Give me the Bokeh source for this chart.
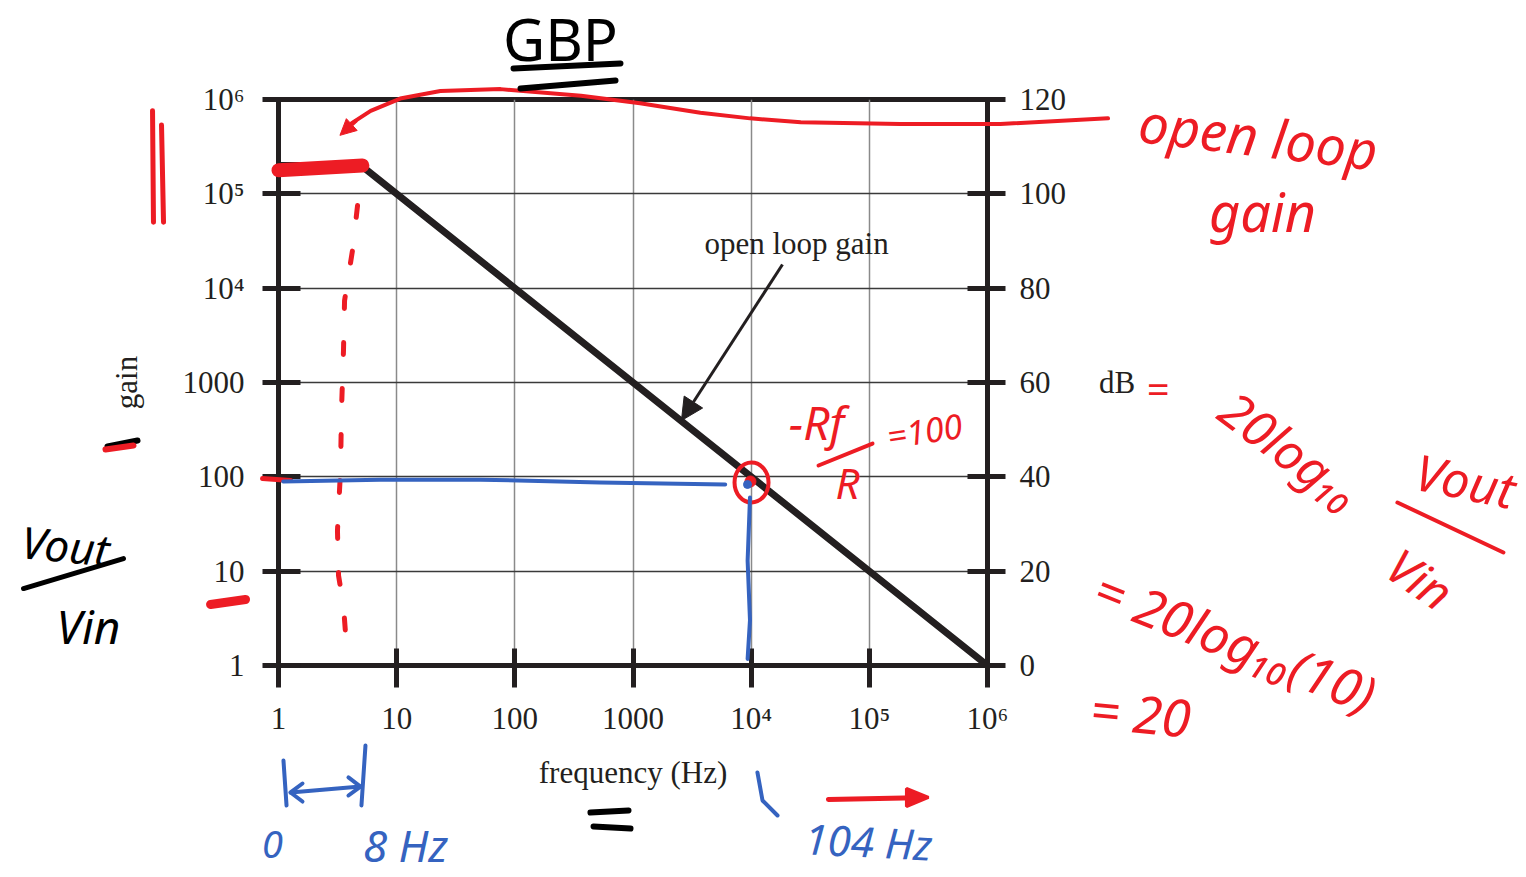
from bokeh.plotting import figure
from bokeh.models import (Range1d, LinearAxis, LinearScale, FixedTicker, Arrow, NormalHead)
from bokeh.core.properties import value
from bokeh.embed import file_html
from bokeh.resources import INLINE

# ---------------- chart data ----------------
freq_hz = [1, 5, 1e6]
open_loop_gain = [2e5, 2e5, 1]

x_ticks = [1.0, 10.0, 100.0, 1000.0, 1e4, 1e5, 1e6]
x_tick_labels = ["1", "10", "100", "1000", "10⁴", "10⁵", "10⁶"]
y_ticks = [1.0, 10.0, 100.0, 1000.0, 1e4, 1e5, 1e6]
y_tick_labels = ["1", "10", "100", "1000", "10⁴", "10⁵", "10⁶"]
db_ticks = [0, 20, 40, 60, 80, 100, 120]

# closed-loop (blue, hand drawn), in decades (log10 Hz, log10 gain)
blue_h_lx = [0.04, 0.86, 1.71, 2.72, 3.78]
blue_h_ly = [1.95, 1.97, 1.97, 1.94, 1.92]
blue_v_lx = [3.99, 3.97, 3.99, 3.97]
blue_v_ly = [1.78, 1.11, 0.48, 0.07]

# red pointer curve (open loop gain note -> GBP corner), decades
red_curve_lx = [7.02, 6.11, 5.26, 4.42, 3.99, 3.57, 3.06, 2.56, 1.88, 1.37, 1.03, 0.78, 0.62]
red_curve_ly = [5.80, 5.74, 5.74, 5.76, 5.80, 5.86, 5.96, 6.04, 6.11, 6.09, 6.01, 5.88, 5.75]

# red dashed drop line from the open-loop corner, decades
red_drop_lx = [0.669, 0.626, 0.559, 0.550, 0.533, 0.525, 0.499, 0.508, 0.550, 0.584]
red_drop_ly = [4.877, 4.399, 3.869, 3.339, 2.703, 2.067, 1.431, 0.954, 0.636, 0.053]

INK = "#231f20"
RED = "#ed1c24"
BLUE = "#3563c0"
BLK = "#000000"
SERIF = "Liberation Serif"
HAND = "Noto Sans"


def d(v):
    return 10 ** v


p = figure(width=1526, height=877, x_axis_type="log", y_axis_type="log",
           x_range=Range1d(1, 1e6), y_range=Range1d(1, 1e6),
           output_backend="svg", toolbar_location=None,
           min_border_left=278, min_border_right=539,
           min_border_top=99, min_border_bottom=212)
p.background_fill_color = "white"
p.border_fill_color = "white"
p.outline_line_color = INK
p.outline_line_width = 5

p.extra_y_ranges = {"db": Range1d(0, 120)}
p.extra_y_scales = {"db": LinearScale()}
rax = LinearAxis(y_range_name="db", ticker=FixedTicker(ticks=db_ticks), axis_label="dB")
p.add_layout(rax, "right")

xa = p.xaxis[0]
ya = p.yaxis[0]
xa.ticker = FixedTicker(ticks=x_ticks)
ya.ticker = FixedTicker(ticks=y_ticks)
xa.major_label_overrides = dict(zip(x_ticks, x_tick_labels))
ya.major_label_overrides = dict(zip(y_ticks, y_tick_labels))
xa.axis_label = "frequency (Hz)"
ya.axis_label = "gain"

for ax in (xa, ya, rax):
    ax.axis_line_width = 5
    ax.axis_line_color = INK
    ax.major_tick_line_width = 5
    ax.major_tick_line_color = INK
    ax.minor_tick_line_color = None
    ax.major_label_text_font = SERIF
    ax.major_label_text_font_size = "31px"
    ax.major_label_text_color = INK
    ax.axis_label_text_font = SERIF
    ax.axis_label_text_font_size = "31px"
    ax.axis_label_text_font_style = "normal"
    ax.axis_label_text_color = INK

ya.major_tick_in = 22
ya.major_tick_out = 16
ya.major_label_standoff = 18
ya.axis_label_standoff = 36
xa.major_tick_in = 17
xa.major_tick_out = 22
xa.major_label_standoff = 13
xa.axis_label_standoff = 16
rax.major_tick_in = 20
rax.major_tick_out = 18
rax.major_label_standoff = 14
rax.axis_label_standoff = 30
rax.axis_label_orientation = "horizontal"

p.xgrid.ticker = FixedTicker(ticks=x_ticks)
p.ygrid.ticker = FixedTicker(ticks=y_ticks)
p.xgrid.grid_line_color = "#8a8a8a"
p.xgrid.grid_line_width = 1.5
p.ygrid.grid_line_color = "#3a3a3a"
p.ygrid.grid_line_width = 1.5

# open loop gain
p.line(freq_hz, open_loop_gain, line_color=INK, line_width=7)


def stroke(lx, ly, color, width, dash="solid"):
    p.line([d(v) for v in lx], [d(v) for v in ly], line_color=color, line_width=width,
           line_cap="round", line_join="round", line_dash=dash, level="overlay")


def note(lx, ly, text, color, size, angle=0.0, font=HAND, style="italic"):
    p.text([d(lx)], [d(ly)], text=[text], text_font=value(font),
           text_font_size=f"{size}px", text_font_style=style,
           text_color=color, text_align="center", text_baseline="middle",
           angle=angle, level="overlay")


# "open loop gain" label with arrow
note(4.384, 4.474, "open loop gain", INK, 31, font=SERIF, style="normal")
p.add_layout(Arrow(x_start=d(4.265), y_start=d(4.251), x_end=d(3.41), y_end=d(2.597),
                   line_color=INK, line_width=3,
                   end=NormalHead(size=22, fill_color=INK, line_color=INK)))

# ---------- red pen ----------
stroke([0.0, 0.71], [5.25, 5.30], RED, 14)
stroke(red_curve_lx, red_curve_ly, RED, 4)
p.add_layout(Arrow(x_start=d(0.66), y_start=d(5.78), x_end=d(0.52), y_end=d(5.62),
                   line_color=RED, line_width=4, level="overlay",
                   end=NormalHead(size=16, fill_color=RED, line_color=RED)))
stroke(red_drop_lx, red_drop_ly, RED, 5, "12 34")
stroke([-1.066, -1.058], [5.88, 4.70], RED, 5)
stroke([-0.99, -0.973], [5.73, 4.70], RED, 5)
stroke([-1.447, -1.193], [2.322, 2.385], BLK, 6)
stroke([-1.464, -1.227], [2.29, 2.332], RED, 6)
stroke([-0.575, -0.279], [0.647, 0.70], RED, 9)
stroke([-0.135, 0.102], [1.982, 1.961], RED, 5)

# circle at the 10^4 Hz / gain 100 point
p.ellipse([d(4.003)], [d(1.94)], width=34, height=40, width_units="screen",
          height_units="screen", fill_color=None, line_color=RED, line_width=4, level="overlay")
p.scatter([d(3.994)], [d(1.951)], size=11, color=RED, level="overlay")

note(4.553, 2.576, "−Rf", RED, 46)
stroke([4.57, 5.027], [2.12, 2.353], RED, 4)
note(4.815, 1.94, "R", RED, 42)
note(5.467, 2.491, "=100", RED, 34, angle=0.15)

note(8.293, 5.619, "open loop", RED, 54, angle=-0.12)
note(8.327, 4.823, "gain", RED, 54)
note(7.438, 2.937, "=", RED, 40)
note(8.564, 2.279, "20log₁₀", RED, 50, angle=-0.64)
note(10.045, 1.96, "Vout", RED, 50, angle=-0.2)
stroke([9.469, 10.366], [1.728, 1.198], RED, 4)
note(9.664, 0.922, "Vin", RED, 48, angle=-0.6)
note(8.099, 0.265, "= 20log₁₀(10)", RED, 52, angle=-0.38)
note(7.295, -0.498, "= 20", RED, 52, angle=-0.1)
stroke([4.654, 5.40], [-1.42, -1.401], RED, 5)
p.patch([d(5.501), d(5.314), d(5.314)], [d(-1.399), d(-1.304), d(-1.495)],
        fill_color=RED, line_color=RED, line_width=3, level="overlay")

# ---------- blue pen ----------
stroke(blue_h_lx, blue_h_ly, BLUE, 4)
stroke(blue_v_lx, blue_v_ly, BLUE, 4)
p.scatter([d(3.969)], [d(1.919)], size=8, color=BLUE, level="overlay")
stroke([0.042, 0.068], [-1.007, -1.484], BLUE, 4)
stroke([0.736, 0.702], [-0.848, -1.484], BLUE, 4)
stroke([0.102, 0.694], [-1.346, -1.283], BLUE, 4)
stroke([0.203, 0.102, 0.203], [-1.251, -1.346, -1.442], BLUE, 4)
stroke([0.592, 0.694, 0.592], [-1.187, -1.283, -1.378], BLUE, 4)
note(-0.051, -1.90, "0", BLUE, 38)
note(1.075, -1.90, "8 Hz", BLUE, 44)
stroke([4.053, 4.096, 4.223], [-1.134, -1.431, -1.59], BLUE, 4)
note(4.993, -1.86, "104 Hz", BLUE, 42, angle=-0.05)

# ---------- black pen ----------
note(2.386, 6.647, "GBP", BLK, 58, style="normal")
stroke([1.989, 2.894], [6.329, 6.382], BLK, 6)
stroke([2.048, 2.852], [6.117, 6.202], BLK, 6)
note(-1.802, 1.272, "Vout", BLK, 44, angle=-0.1)
stroke([-2.158, -1.312], [0.816, 1.134], BLK, 5)
note(-1.608, 0.424, "Vin", BLK, 46)
stroke([2.64, 2.962], [-1.558, -1.537], BLK, 6)
stroke([2.666, 2.979], [-1.707, -1.728], BLK, 6)

open("out.html", "w").write(file_html(p, INLINE))
